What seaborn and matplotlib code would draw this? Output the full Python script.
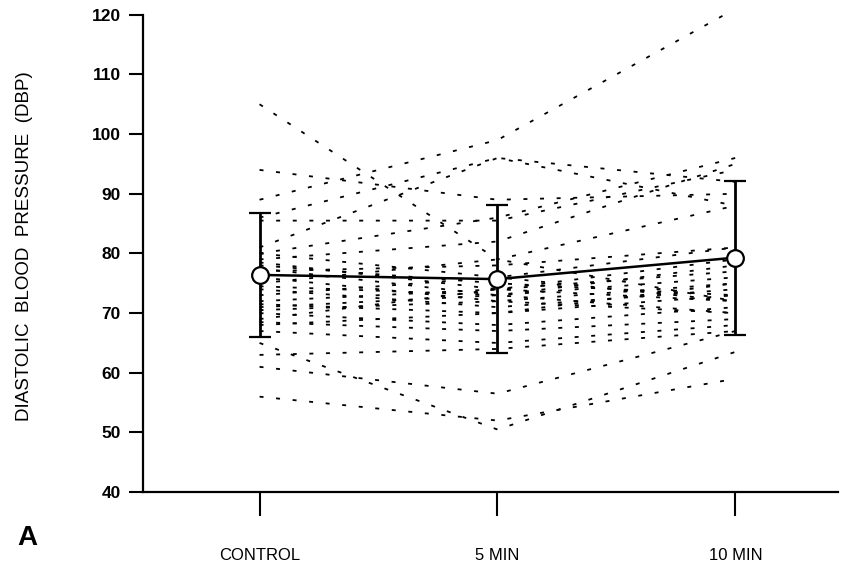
import matplotlib
matplotlib.use("Agg")
import matplotlib.pyplot as plt
import numpy as np
import pandas as pd
import seaborn as sns

TIMES = ["CONTROL", "5 MIN", "10 MIN"]

# individual subjects (DBP at each time point)
control = [105, 94, 89, 86, 85.5, 81, 80, 80, 79, 78.5, 78, 77.5, 77, 76, 75, 74.5,
           74, 73, 72, 71.5, 71, 70.5, 70, 69, 68.5, 68, 67, 65, 63, 61, 56]
min5 = [79, 89, 99, 96, 85.5, 96, 86, 76, 82, 74, 75, 73, 78, 72, 79, 73,
        71, 76, 74, 70, 73, 72, 68, 74, 67, 70, 65, 50.5, 64, 56.5, 52]
min10 = [88, 90, 121, 92, 94, 88, 96, 81, 95, 77, 73, 70, 81, 75, 72, 78,
         74, 72, 79, 73, 76, 70, 71, 72, 69, 75, 68, 63.5, 67, 67, 59]

# group mean and SD
mean_dbp = [76.4, 75.7, 79.3]
sd_dbp = [10.4, 12.4, 12.9]

n = len(control)
df = pd.DataFrame({
    "subject": np.tile(np.arange(n), 3),
    "t": np.repeat([0, 1, 2], n),
    "dbp": control + min5 + min10,
})

sns.set_style("ticks", {"text.color": "black", "axes.edgecolor": "black",
                        "axes.labelcolor": "black", "xtick.color": "black",
                        "ytick.color": "black"})
plt.rcParams["font.family"] = ["Liberation Sans", "DejaVu Sans"]

fig = plt.figure(figsize=(8.41, 5.67), dpi=100)
ax = fig.add_axes([0.170, 0.132, 0.826, 0.842])

sns.lineplot(data=df, x="t", y="dbp", units="subject", estimator=None,
             color="black", linewidth=1.3, linestyle=(0, (2.2, 7.0)), ax=ax)

ax.errorbar([0, 1, 2], mean_dbp, yerr=sd_dbp, color="black", linewidth=1.8,
            elinewidth=2.0, capsize=8, capthick=2.0, marker="o", markersize=12,
            markerfacecolor="white", markeredgecolor="black", markeredgewidth=1.6,
            zorder=5)

ax.set_xlim(-0.49, 2.43)
ax.set_ylim(40, 120)
ax.set_yticks(range(40, 121, 10))
ax.set_xticks([0, 1, 2])
ax.set_xticklabels(TIMES, fontsize=12)
ax.tick_params(axis="x", direction="out", length=17, width=1.5, pad=23)
ax.tick_params(axis="y", direction="out", length=10, width=1.5, pad=6, labelsize=12.5)
for lab in ax.get_yticklabels():
    lab.set_fontweight("bold")

ax.set_xlabel("")
ax.set_ylabel("DIASTOLIC  BLOOD  PRESSURE  (DBP)", fontsize=13.5)
ax.yaxis.set_label_coords(-0.158, 0.515)
sns.despine(ax=ax)
for s in ["left", "bottom"]:
    ax.spines[s].set_linewidth(1.6)

fig.text(0.021, 0.038, "A", fontsize=20, fontweight="bold")

fig.savefig("out.png", dpi=100)
